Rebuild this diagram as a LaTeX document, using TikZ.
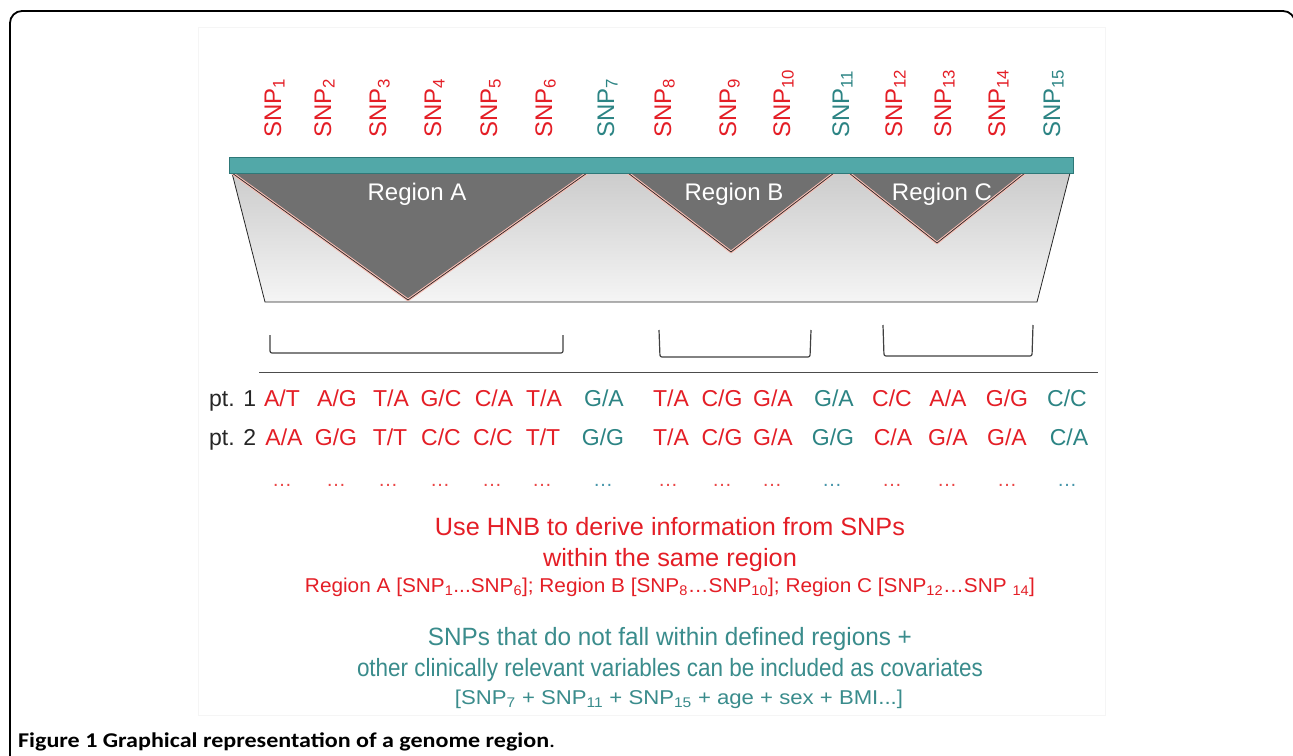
\documentclass[tikz,border=0pt]{standalone}
\usepackage{fontspec}
\setmainfont{Liberation Sans}
\newfontfamily\capfont{Carlito}
\usepackage{graphicx}
\definecolor{snpred}{RGB}{228,30,38}
\definecolor{snpteal}{RGB}{44,132,132}
\definecolor{txtteal}{RGB}{58,140,140}
\definecolor{barfill}{RGB}{82,168,168}
\definecolor{barline}{RGB}{46,120,120}
\definecolor{trigray}{RGB}{112,112,112}
\definecolor{halo}{RGB}{250,190,180}
\definecolor{dotred}{RGB}{235,70,70}
\definecolor{dotteal}{RGB}{70,150,170}
\tikzset{
  snplab/.style={rotate=90, anchor=base west, inner sep=0pt, font=\fontsize{24}{28}\selectfont},
  reglab/.style={text=white, inner sep=0pt, font=\fontsize{24}{28}\selectfont},
  geno/.style={anchor=base, inner sep=0pt, font=\fontsize{23}{27}\selectfont},
  dotlab/.style={anchor=base, inner sep=0pt, font=\fontsize{20}{24}\selectfont},
  brk/.style={draw=black!75, line width=1.2pt, rounded corners=2pt},
  tri/.style={fill=trigray},
  trihalo/.style={draw=halo, line width=2.8pt, line join=round},
  triedge/.style={draw=black!85, line width=0.7pt, line join=round},
  btxt/.style={anchor=base, inner sep=0pt},
}
\begin{document}
\begin{tikzpicture}[x=1pt,y=-1pt]
\useasboundingbox (0,0) rectangle (1293,755);
\fill[white] (0,0) rectangle (1293,755);
% outer frame
\draw[line width=1.8pt, rounded corners=12pt] (10,770) -- (10,11) -- (1295,11) -- (1295,770);
% faint image border
\draw[black!4, line width=0.8pt] (198,27) rectangle (1105,715);

% trapezoid
\shade[top color=black!20, bottom color=black!4, draw=black!85, line width=0.8pt]
  (232,173) -- (1070,173) -- (1037,302) -- (265,302) -- cycle;

% triangles
\foreach \a/\b/\c/\d in {232/408/300/587, 628/731/252/834, 849/937/243/1025}{
  \fill[tri] (\a,173) -- (\b,\c) -- (\d,173) -- cycle;
  \draw[trihalo] (\a,173) -- (\b,\c) -- (\d,173);
  \draw[triedge] (\a,173) -- (\b,\c) -- (\d,173) -- cycle;
}
\node[reglab] (rA) at (417,194) {Region A};
\node[reglab] (rB) at (734,194) {Region B};
\node[reglab] (rC) at (942,194) {Region C};

% bar
\draw[fill=barfill, draw=barline, line width=1pt] (229,157) rectangle (1073,173);
\node[inner sep=0pt] (bar) at (651,165) {};

% SNP labels
\foreach \x/\n/\c in {272/1/snpred, 322/2/snpred, 377/3/snpred, 432/4/snpred, 488/5/snpred,
  543/6/snpred, 605/7/snpteal, 662/8/snpred, 727/9/snpred, 781/10/snpred, 840/11/snpteal,
  893/12/snpred, 942/13/snpred, 996/14/snpred, 1051/15/snpteal}{
  \node[snplab, text=\c] (snp\n) at ({\x+9},138) {SNP\textsubscript{\n}};
}

% brackets
\draw[brk] (270,335) -- (270,353) -- (563,353) -- (563,335);
\draw[brk] (659,330) -- (660,357) -- (810,357) -- (811,330);
\draw[brk] (883,325) -- (884,356) -- (1032,356) -- (1033,325);
\node[inner sep=0pt] (bA) at (416,353) {};
\node[inner sep=0pt] (bB) at (735,357) {};
\node[inner sep=0pt] (bC) at (958,356) {};

% separator line
\draw[black!70, line width=1pt] (259,372) -- (1098,372);

% rows
\node[geno, anchor=base west, text=black!85] (pt1) at (209,406) {pt. 1};
\node[geno, anchor=base west, text=black!85] (pt2) at (209,445) {pt. 2};
\foreach \x/\t/\c [count=\i] in {282/{A/T}/snpred, 337/{A/G}/snpred, 391/{T/A}/snpred, 441/{G/C}/snpred,
  494/{C/A}/snpred, 544/{T/A}/snpred, 604/{G/A}/snpteal, 671/{T/A}/snpred, 722/{C/G}/snpred,
  773/{G/A}/snpred, 834/{G/A}/snpteal, 892/{C/C}/snpred, 948/{A/A}/snpred, 1007/{G/G}/snpred,
  1067/{C/C}/snpteal}{
  \node[geno, text=\c] (ga\i) at (\x,406) {\t};
}
\foreach \x/\t/\c [count=\i] in {284/{A/A}/snpred, 336/{G/G}/snpred, 390/{T/T}/snpred, 441/{C/C}/snpred,
  493/{C/C}/snpred, 543/{T/T}/snpred, 603/{G/G}/snpteal, 671/{T/A}/snpred, 722/{C/G}/snpred,
  773/{G/A}/snpred, 833/{G/G}/snpteal, 893/{C/A}/snpred, 948/{G/A}/snpred, 1007/{G/A}/snpred,
  1069/{C/A}/snpteal}{
  \node[geno, text=\c] (gb\i) at (\x,445) {\t};
}
\foreach \x/\c [count=\i] in {282/dotred, 336/dotred, 388/dotred, 440/dotred, 492/dotred, 542/dotred,
  603/dotteal, 668/dotred, 722/dotred, 772/dotred, 832/dotteal, 892/dotred, 947/dotred,
  1007/dotred, 1067/dotteal}{
  \node[dotlab, text=\c] (gd\i) at (\x,486) {…};
}

% bottom texts
\node[btxt, text=snpred] (t1) at (670,535) {\resizebox{470pt}{\height}{\fontsize{25}{29}\selectfont Use HNB to derive information from SNPs}};
\node[btxt, text=snpred] (t2) at (670,566) {\resizebox{254pt}{\height}{\fontsize{25}{29}\selectfont within the same region}};
\node[btxt, text=snpred] (t3) at (670,592) {\resizebox{730pt}{\height}{\fontsize{20}{24}\selectfont Region A [SNP\textsubscript{1}...SNP\textsubscript{6}]; Region B [SNP\textsubscript{8}…SNP\textsubscript{10}]; Region C [SNP\textsubscript{12}…SNP \textsubscript{14}]}};
\node[btxt, text=txtteal] (t4) at (670,645) {\resizebox{484pt}{\height}{\fontsize{25}{29}\selectfont SNPs that do not fall within defined regions +}};
\node[btxt, text=txtteal] (t5) at (670,676) {\resizebox{626pt}{\height}{\fontsize{25}{29}\selectfont other clinically relevant variables can be included as covariates}};
\node[btxt, text=txtteal] (t6) at (679,704) {\resizebox{448pt}{\height}{\fontsize{20}{24}\selectfont [SNP\textsubscript{7} + SNP\textsubscript{11} + SNP\textsubscript{15} + age + sex + BMI...]}};

% caption
\node[anchor=base west, inner sep=0pt] (cap) at (18,747) {\resizebox{537pt}{\height}{\capfont\fontsize{21}{25}\selectfont\textbf{Figure 1 Graphical representation of a genome region}.}};
\end{tikzpicture}
\end{document}
